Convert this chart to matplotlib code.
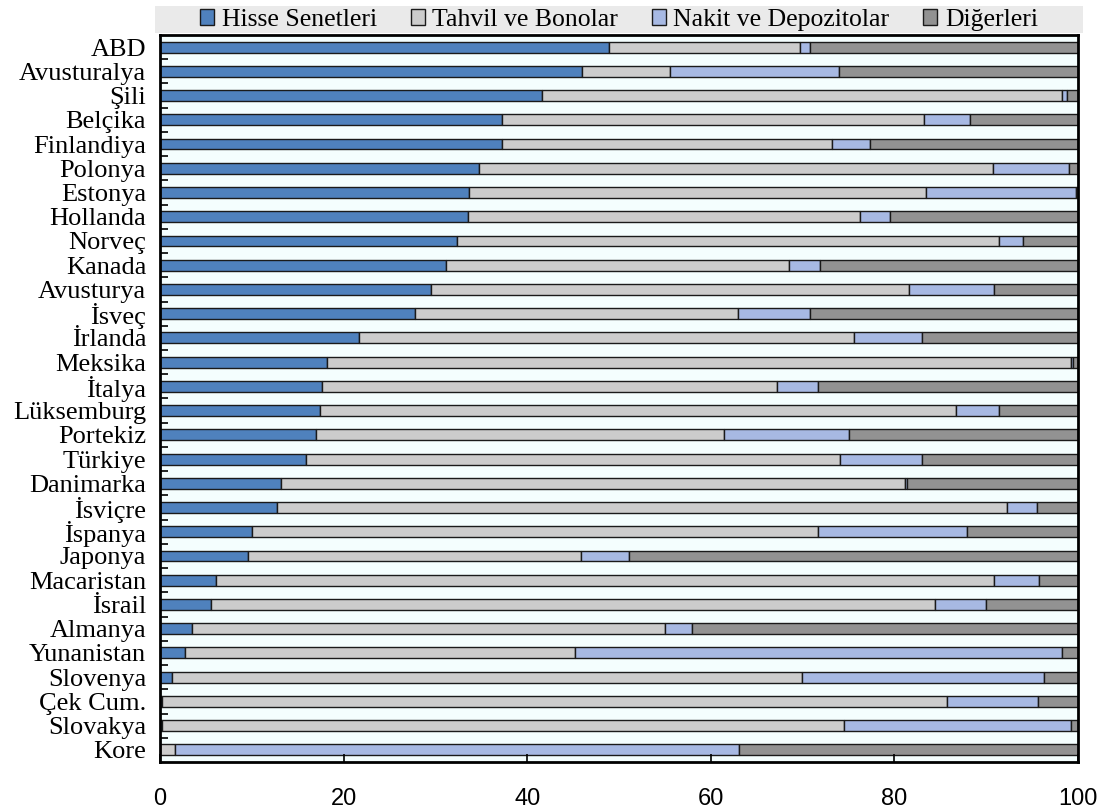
import numpy as np
import matplotlib
matplotlib.use('Agg')
import matplotlib.pyplot as plt
from matplotlib.patches import Rectangle

plt.rcParams['font.family'] = ['Liberation Serif', 'DejaVu Serif']

ulkeler = ['ABD', 'Avusturalya', 'Şili', 'Belçika', 'Finlandiya', 'Polonya',
           'Estonya', 'Hollanda', 'Norveç', 'Kanada', 'Avusturya', 'İsveç',
           'İrlanda', 'Meksika', 'İtalya', 'Lüksemburg', 'Portekiz', 'Türkiye',
           'Danimarka', 'İsviçre', 'İspanya', 'Japonya', 'Macaristan', 'İsrail',
           'Almanya', 'Yunanistan', 'Slovenya', 'Çek Cum.', 'Slovakya', 'Kore']

# portföy payları (%)
hisse = [48.9, 46.0, 41.6, 37.3, 37.2, 34.8, 33.7, 33.5, 32.3, 31.2,
         29.5, 27.8, 21.7, 18.2, 17.6, 17.4, 17.0, 15.9, 13.2, 12.7,
         10.0, 9.6, 6.1, 5.6, 3.5, 2.7, 1.3, 0.2, 0.2, 0.0]
tahvil = [20.8, 9.6, 56.7, 45.9, 36.0, 55.9, 49.7, 42.8, 59.1, 37.3,
          52.1, 35.2, 53.9, 81.0, 49.6, 69.3, 44.4, 58.2, 67.9, 79.6,
          61.7, 36.3, 84.7, 78.8, 51.5, 42.5, 68.6, 85.5, 74.3, 1.6]
nakit = [1.1, 18.4, 0.5, 5.0, 4.1, 8.3, 16.4, 3.2, 2.6, 3.4,
         9.2, 7.8, 7.4, 0.3, 4.5, 4.7, 13.6, 8.9, 0.3, 3.2,
         16.2, 5.2, 5.0, 5.6, 3.0, 53.1, 26.4, 9.9, 24.7, 61.5]
diger = [29.2, 26.0, 1.2, 11.8, 22.7, 1.0, 0.2, 20.5, 6.0, 28.1,
         9.2, 29.2, 17.0, 0.5, 28.3, 8.6, 25.0, 17.0, 18.6, 4.5,
         12.1, 48.9, 4.2, 10.0, 42.0, 1.7, 3.7, 4.4, 0.8, 36.9]

seriler = [('Hisse Senetleri', hisse, '#4F81BD'),
           ('Tahvil ve Bonolar', tahvil, '#CCCCCC'),
           ('Nakit ve Depozitolar', nakit, '#A7B9E3'),
           ('Diğerleri', diger, '#929292')]

fig = plt.figure(figsize=(11.06, 8.10), dpi=100)
ax = fig.add_axes([0.1447, 0.0593, 0.830, 0.8975])
ax.set_facecolor('#F4FEFE')

y = np.arange(len(ulkeler))
sol = np.zeros(len(ulkeler))
for ad, deger, renk in seriler:
    deger = np.array(deger)
    ax.barh(y, deger, left=sol, height=0.45, color=renk,
            edgecolor='#1a1a1a', linewidth=1.0, label=ad)
    sol += deger

ax.set_xlim(0, 100)
ax.set_ylim(len(ulkeler) - 0.5, -0.5)
ax.set_xticks([0, 20, 40, 60, 80, 100])
ax.set_xticklabels(['0', '20', '40', '60', '80', '100'],
                   family='Liberation Sans', fontsize=17)
ax.tick_params(axis='x', direction='in', length=6, width=1.2, pad=19)

ax.set_yticks(y)
ax.set_yticklabels(ulkeler, fontsize=19)
ax.tick_params(axis='y', which='major', length=0, pad=10)
ax.set_yticks(np.arange(0.5, len(ulkeler) - 0.5, 1.0), minor=True)
ax.tick_params(axis='y', which='minor', direction='in', length=6, width=1.2)

for s in ax.spines.values():
    s.set_linewidth(2.0)
    s.set_color('black')

# gri lejant şeridi
fig.patches.append(Rectangle((155 / 1106, 1 - 33 / 810), 928 / 1106, 27 / 810,
                             transform=fig.transFigure, facecolor='#EAEAEA',
                             edgecolor='none', zorder=0))
fig.legend(loc='center', bbox_to_anchor=(619 / 1106, 1 - 20 / 810), ncol=4,
           frameon=False, fontsize=18.5, handlelength=0.55, handleheight=0.6,
           handletextpad=0.3, columnspacing=1.3, borderaxespad=0,
           borderpad=0)

fig.savefig('out.png', dpi=100)
